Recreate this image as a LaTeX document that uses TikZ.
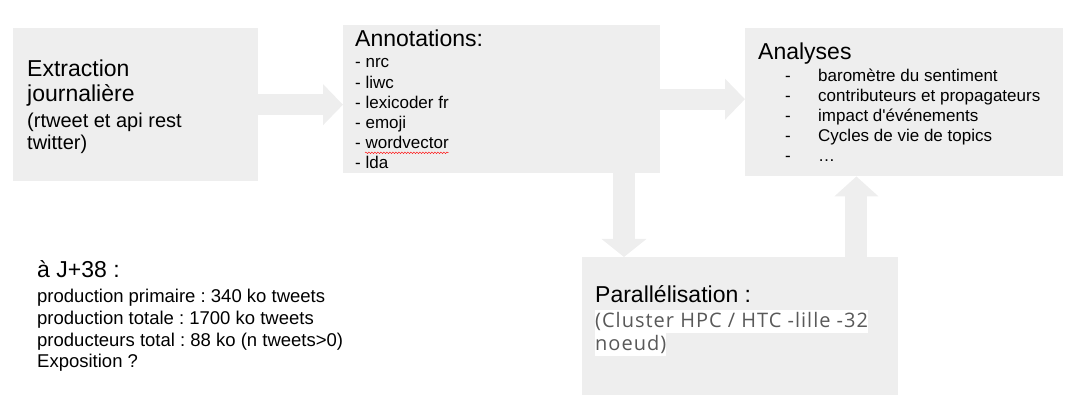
\documentclass[tikz,border=0pt]{standalone}
\usepackage{fontspec}
\setmainfont{Liberation Sans}
\newfontfamily\clusterfont[LetterSpace=5]{Open Sans}
\frenchspacing
\usetikzlibrary{arrows.meta,decorations.pathmorphing}
\definecolor{boxgray}{HTML}{EEEEEE}
\definecolor{notegray}{HTML}{595959}
\tikzset{
  box/.style={fill=boxgray,inner sep=0pt,anchor=north west},
  txt/.style={inner sep=0pt,anchor=base west},
  big/.style={txt,font=\fontsize{23}{26}\selectfont},
  small/.style={txt,font=\fontsize{17}{20}\selectfont},
  note/.style={txt,fill=white,text height=17pt,text depth=6pt,text=notegray,font=\clusterfont\fontsize{20}{23}\selectfont},
  flow/.style={draw=boxgray,line width=21pt,-{Triangle[length=20pt,width=40pt]}},
}
\begin{document}
\begin{tikzpicture}[x=1pt,y=-1pt]
		\useasboundingbox (0,0) rectangle (1091,419);
		% Boîtes
		\node[box,minimum width=245pt,minimum height=153pt] (ext) at (13,28) {};
		\node[box,minimum width=317pt,minimum height=148pt] (ann) at (343,25) {};
		\node[box,minimum width=318pt,minimum height=148pt] (ana) at (745,28) {};
		\node[box,minimum width=316pt,minimum height=138pt] (par) at (582,257) {};
		% Flèches
		\coordinate (down) at ([xshift=42pt]par.north west);
		\coordinate (up) at ([xshift=-42pt]par.north east);
		\draw [flow] (ext.east) -- (ext.east -| ann.west);
		\draw [flow] (ann.east) -- (ann.east -| ana.west);
		\draw [flow,line width=22pt,-{Triangle[length=18pt,width=44pt]}] (down |- ann.south) -- (down);
		\draw [flow,line width=22pt,-{Triangle[length=20pt,width=43pt]}] (up) -- (up |- ana.south);
		% Textes
		\node[big] (extA) at (27,77) {Extraction};
		\node[big] (extB) at (27,102) {journalière};
		\node[txt,font=\fontsize{20}{23}\selectfont] (extC) at (27,128) {(rtweet et api rest};
		\node[txt,font=\fontsize{20}{23}\selectfont] (extD) at (27,150) {twitter)};
		\node[big] (annT) at (355,47) {Annotations:};
		\foreach \entry [count=\i] in {nrc,liwc,lexicoder fr,emoji,wordvector,lda}
			\node[small] (annI\i) at (355,47.8+20.2*\i) {- \entry};
		\draw [red,decorate,decoration={snake,amplitude=0.8pt,segment length=3pt}] ([shift={(10,4)}]annI5.base west) -- ([shift={(0,4)}]annI5.base east);
		\node[big] (anaT) at (758,60) {Analyses};
		\foreach \entry [count=\i] in {baromètre du sentiment,contributeurs et propagateurs,impact d\textquotesingle événements,Cycles de vie de topics,{\ldots}}{
			\node[small] (anaD\i) at (785,62+20*\i) {-};
			\node[small] (anaI\i) at (818,62+20*\i) {\entry};
		}
		\node[big] (parT) at (595,302) {Parallélisation :};
		\node[note] (parA) at (595,327) {(Cluster HPC / HTC -lille -32};
		\node[note] (parB) at (595,350) {noeud)};
		\node[big] (j38) at (37,278) {à J+38 :};
		\foreach \entry [count=\i] in {production primaire : 340 ko tweets,production totale : 1700 ko tweets,producteurs total : 88 ko (n tweets>0),Exposition ?}
			\node[txt,font=\fontsize{18.5}{21}\selectfont] (jL\i) at (37,281+21.7*\i) {\entry};
		\end{tikzpicture}
\end{document}
